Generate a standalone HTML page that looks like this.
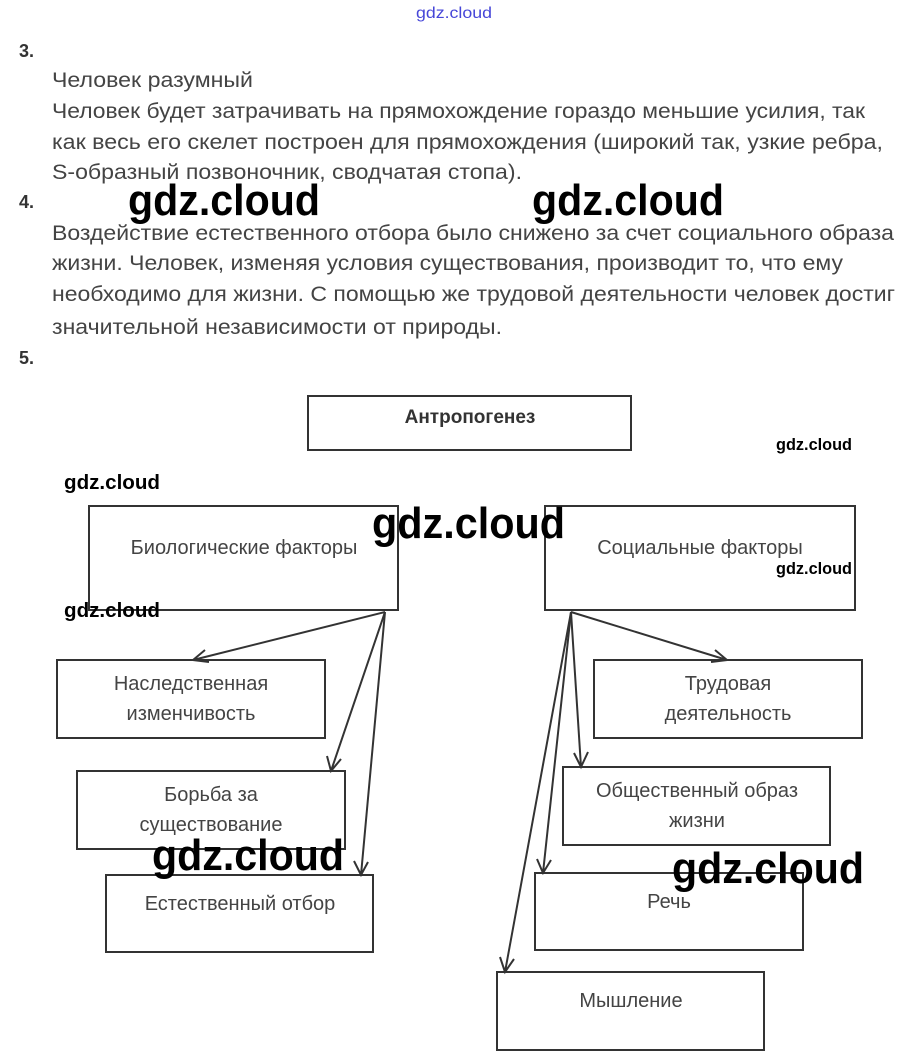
<!DOCTYPE html>
<html><head><meta charset="utf-8"><style>
html,body{margin:0;padding:0;background:#fff}
svg{display:block}
.t{font-family:"Liberation Sans",sans-serif;font-size:21px;fill:#444}
.d{font-family:"Liberation Sans",sans-serif;font-size:20px;fill:#444}
.n{font-family:"Liberation Sans",sans-serif;font-size:18px;font-weight:bold;fill:#333}
.w{font-family:"Liberation Sans",sans-serif;font-weight:bold;fill:#000}
.b{fill:none;stroke:#333;stroke-width:2}
.a{stroke:#333;stroke-width:2;fill:none}
</style></head><body>
<svg width="909" height="1062" viewBox="0 0 909 1062" xmlns="http://www.w3.org/2000/svg">
<text x="416" y="18" font-family="Liberation Sans,sans-serif" font-size="16" fill="#4646d8" textLength="76" lengthAdjust="spacingAndGlyphs">gdz.cloud</text>
<text class="n" x="19" y="57">3.</text>
<text class="t" x="52" y="87" textLength="201" lengthAdjust="spacingAndGlyphs">Человек разумный</text>
<text class="t" x="52" y="118" textLength="813" lengthAdjust="spacingAndGlyphs">Человек будет затрачивать на прямохождение гораздо меньшие усилия, так</text>
<text class="t" x="52" y="149" textLength="831" lengthAdjust="spacingAndGlyphs">как весь его скелет построен  для прямохождения (широкий так, узкие ребра,</text>
<text class="t" x="52" y="179" textLength="470" lengthAdjust="spacingAndGlyphs">S-образный позвоночник, сводчатая стопа).</text>
<text class="n" x="19" y="208">4.</text>
<text class="t" x="52" y="240" textLength="842" lengthAdjust="spacingAndGlyphs">Воздействие естественного отбора было снижено за счет социального образа</text>
<text class="t" x="52" y="270" textLength="791" lengthAdjust="spacingAndGlyphs">жизни. Человек, изменяя условия существования, производит то, что ему</text>
<text class="t" x="52" y="301" textLength="843" lengthAdjust="spacingAndGlyphs">необходимо для жизни. С помощью же трудовой деятельности человек достиг</text>
<text class="t" x="52" y="334" textLength="450" lengthAdjust="spacingAndGlyphs">значительной независимости от природы.</text>
<text class="n" x="19" y="364">5.</text>

<rect class="b" x="308" y="396" width="323" height="54"/>
<text x="470" y="423" text-anchor="middle" font-family="Liberation Sans,sans-serif" font-size="19" font-weight="bold" fill="#333">Антропогенез</text>

<rect class="b" x="89" y="506" width="309" height="104"/>
<text class="d" x="244" y="554" text-anchor="middle">Биологические факторы</text>
<rect class="b" x="545" y="506" width="310" height="104"/>
<text class="d" x="700" y="554" text-anchor="middle">Социальные факторы</text>

<rect class="b" x="57" y="660" width="268" height="78"/>
<text class="d" x="191" y="690" text-anchor="middle">Наследственная</text>
<text class="d" x="191" y="720" text-anchor="middle">изменчивость</text>
<rect class="b" x="77" y="771" width="268" height="78"/>
<text class="d" x="211" y="801" text-anchor="middle">Борьба за</text>
<text class="d" x="211" y="831" text-anchor="middle">существование</text>
<rect class="b" x="106" y="875" width="267" height="77"/>
<text class="d" x="240" y="910" text-anchor="middle">Естественный отбор</text>

<rect class="b" x="594" y="660" width="268" height="78"/>
<text class="d" x="728" y="690" text-anchor="middle">Трудовая</text>
<text class="d" x="728" y="720" text-anchor="middle">деятельность</text>
<rect class="b" x="563" y="767" width="267" height="78"/>
<text class="d" x="697" y="797" text-anchor="middle">Общественный образ</text>
<text class="d" x="697" y="827" text-anchor="middle">жизни</text>
<rect class="b" x="535" y="873" width="268" height="77"/>
<text class="d" x="669" y="908" text-anchor="middle">Речь</text>
<rect class="b" x="497" y="972" width="267" height="78"/>
<text class="d" x="631" y="1007" text-anchor="middle">Мышление</text>

<g class="a">
<path d="M385 612 L193 660 M205 650 L193 660 L209 662"/>
<path d="M385 612 L331 771 M327 756 L331 771 L341 759"/>
<path d="M385 612 L361 875 M354 861 L361 875 L368 862"/>
<path d="M571 612 L727 660 M711 662 L727 660 L715 650"/>
<path d="M571 612 L581 767 M574 753 L581 767 L588 752"/>
<path d="M571 612 L543 873 M537 859 L543 873 L551 860"/>
<path d="M571 612 L505 972 M500 957 L505 972 L514 959"/>
</g>

<text class="w" x="128" y="215" font-size="44" textLength="192" lengthAdjust="spacingAndGlyphs">gdz.cloud</text>
<text class="w" x="532" y="215" font-size="44" textLength="192" lengthAdjust="spacingAndGlyphs">gdz.cloud</text>
<text class="w" x="372" y="538" font-size="44" textLength="193" lengthAdjust="spacingAndGlyphs">gdz.cloud</text>
<text class="w" x="152" y="870" font-size="44" textLength="192" lengthAdjust="spacingAndGlyphs">gdz.cloud</text>
<text class="w" x="672" y="883" font-size="44" textLength="192" lengthAdjust="spacingAndGlyphs">gdz.cloud</text>
<text class="w" x="776" y="450" font-size="17" textLength="76" lengthAdjust="spacingAndGlyphs">gdz.cloud</text>
<text class="w" x="64" y="489" font-size="20" textLength="96" lengthAdjust="spacingAndGlyphs">gdz.cloud</text>
<text class="w" x="776" y="574" font-size="17" textLength="76" lengthAdjust="spacingAndGlyphs">gdz.cloud</text>
<text class="w" x="64" y="617" font-size="20" textLength="96" lengthAdjust="spacingAndGlyphs">gdz.cloud</text>
</svg>
</body></html>
